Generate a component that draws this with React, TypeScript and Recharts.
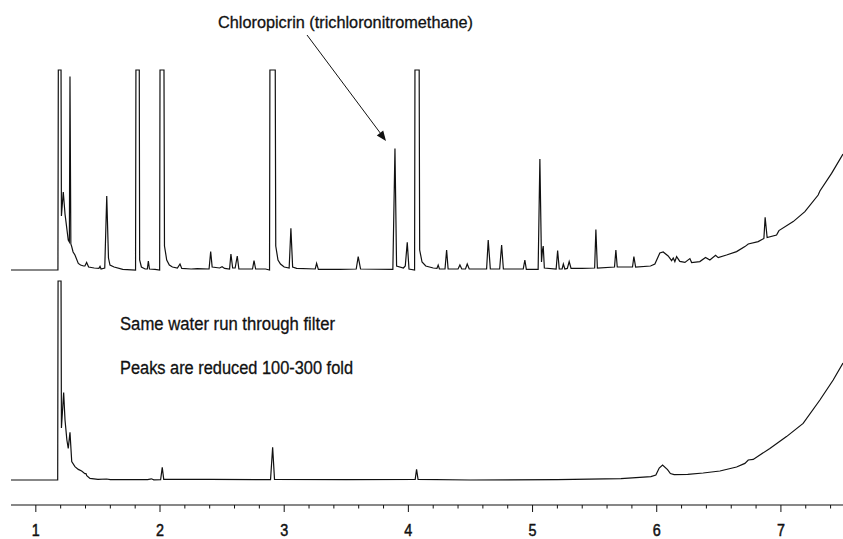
// Chromatogram: raw water vs. same water run through filter
import { LineChart, Line, XAxis, YAxis } from "recharts";

// retention time (min), signal (clipped at 100)
const rawTrace: [number, number][] = [
  [0.8, 0], [1.178, 0], [1.181, 100], [1.203, 100], [1.206, 27], [1.221, 39], [1.235, 28],
  [1.261, 15], [1.27, 14], [1.275, 96.7], [1.282, 13], [1.289, 11.7], [1.3, 9], [1.315, 7.5],
  [1.342, 3.3], [1.36, 2.5], [1.385, 2], [1.395, 2], [1.409, 3.8], [1.425, 1.5], [1.47, 1],
  [1.508, 0.8], [1.517, 1.8], [1.525, 0.5], [1.555, 1], [1.571, 37], [1.585, 6], [1.597, 2.5],
  [1.63, 1.5], [1.7, 0.3], [1.803, 0], [1.806, 100], [1.833, 100], [1.836, 5], [1.85, 1.5],
  [1.88, 0.5], [1.898, 0.5], [1.906, 4.5], [1.915, 0.5], [1.96, 0.3], [1.997, 0], [2.0, 100],
  [2.032, 100], [2.036, 12], [2.054, 5], [2.075, 2.5], [2.1, 1.5], [2.14, 1], [2.161, 3],
  [2.175, 0.8], [2.25, 0.5], [2.3, 0.7], [2.395, 0.5], [2.408, 9.2], [2.42, 1.5], [2.48, 1],
  [2.5, 1.6], [2.52, 0.8], [2.56, 0.5], [2.571, 8], [2.585, 1], [2.605, 1], [2.622, 7],
  [2.635, 0.5], [2.745, 0.5], [2.757, 4.7], [2.77, 0.5], [2.85, 0.5], [2.882, 0], [2.885, 100],
  [2.928, 100], [2.932, 12], [2.95, 5], [2.97, 3], [3.0, 1.5], [3.04, 1], [3.054, 20.8],
  [3.068, 1.5], [3.1, 0.8], [3.25, 0.5], [3.261, 3.3], [3.275, 0.3], [3.45, 0.3], [3.58, 0.5],
  [3.596, 6.7], [3.615, 0.5], [3.875, 0.3], [3.892, 60.8], [3.905, 2], [3.96, 1], [3.975, 2],
  [3.991, 13.8], [4.005, 0.5], [4.05, 0], [4.053, 100], [4.087, 100], [4.091, 10], [4.11, 4],
  [4.14, 2], [4.2, 1], [4.23, 0.8], [4.24, 2.5], [4.25, 0.5], [4.295, 0.5], [4.308, 10],
  [4.32, 0.5], [4.4, 0.5], [4.415, 2.5], [4.43, 0.5], [4.46, 0.5], [4.474, 3], [4.49, 0.5],
  [4.63, 0.5], [4.643, 15], [4.66, 0.5], [4.735, 0.5], [4.751, 12.5], [4.765, 0.5],
  [4.925, 0.5], [4.938, 5], [4.95, 0.3], [5.045, 0.3], [5.059, 55.5], [5.072, 4], [5.08, 10],
  [5.086, 12], [5.095, 1], [5.19, 0.5], [5.202, 9.7], [5.215, 0.5], [5.238, 0.5], [5.248, 3],
  [5.26, 0.5], [5.28, 0.8], [5.295, 4.2], [5.31, 0.8], [5.4, 0.8], [5.5, 1], [5.51, 20.3],
  [5.522, 1], [5.66, 1.5], [5.671, 10], [5.682, 1.5], [5.805, 1.5], [5.816, 6.7], [5.83, 1.5],
  [5.95, 2], [5.985, 3], [6.025, 8.5], [6.052, 9], [6.092, 7], [6.12, 4.7], [6.133, 6],
  [6.146, 4.2], [6.16, 6.7], [6.186, 4.3], [6.227, 3.8], [6.267, 5.7], [6.281, 3.7],
  [6.347, 4.2], [6.393, 6.3], [6.428, 5], [6.474, 7.3], [6.495, 6.2], [6.562, 7.5],
  [6.643, 9.2], [6.71, 11.7], [6.737, 13], [6.817, 14.2], [6.863, 15.8], [6.873, 26.3],
  [6.889, 16.2], [6.965, 17.5], [6.984, 19.7], [7.099, 24.2], [7.193, 29.2], [7.3, 37.5],
  [7.314, 39.5], [7.408, 48.3], [7.5, 58],
];

const filteredTrace: [number, number][] = [
  [0.8, 0], [1.176, 0], [1.179, 99.5], [1.203, 99.5], [1.206, 26], [1.224, 43.7], [1.235, 30],
  [1.25, 20], [1.261, 15.8], [1.275, 23.8], [1.289, 9.2], [1.315, 6.7], [1.342, 5.3],
  [1.369, 4.5], [1.395, 3.2], [1.404, 3.2], [1.41, 2.2], [1.436, 0.8], [1.5, 0.3], [1.57, 0.5],
  [1.6, 0.2], [1.9, 0.2], [1.93, 0.6], [1.95, 0.1], [2.005, 0.2], [2.018, 6.3], [2.03, 0.3],
  [2.4, 0.3], [2.89, 0.2], [2.907, 16.3], [2.922, 0.3], [3.5, 0.2], [4.055, 0.3], [4.066, 5.3],
  [4.078, 0.3], [4.5, 0], [5.2, 0.2], [5.712, 0.7], [5.953, 1.7], [5.993, 2.5], [6.02, 6],
  [6.047, 7.5], [6.087, 5.2], [6.11, 3.2], [6.14, 2.7], [6.25, 2.8], [6.374, 3.5],
  [6.509, 4.5], [6.643, 6.5], [6.71, 8.3], [6.737, 10], [6.777, 10.3], [6.911, 15.8],
  [7.045, 21.7], [7.179, 28.3], [7.314, 40], [7.421, 50], [7.5, 58.5],
];

const timeTicks = [
  1, 1.2, 1.4, 1.6, 1.8, 2, 2.2, 2.4, 2.6, 2.8, 3, 3.2, 3.4, 3.6, 3.8, 4, 4.2, 4.4, 4.6, 4.8,
  5, 5.2, 5.4, 5.6, 5.8, 6, 6.2, 6.4, 6.6, 6.8, 7, 7.2, 7.4,
];

// no condensed face installed, so squeeze Liberation Sans with textLength
const FONT = "'Liberation Sans Narrow', 'Arial Narrow', 'Liberation Sans', sans-serif";
const INK = "#111";

const rawData = rawTrace.map(([t, v]) => ({ t, v }));
const filteredData = filteredTrace.map(([t, v]) => ({ t, v }));

function TimeTick(props: any) {
  const { x, y, payload } = props;
  const v = payload.value as number;
  const major = Math.abs(v - Math.round(v)) < 1e-6;
  return (
    <g>
      <line x1={x} x2={x} y1={y} y2={y + (major ? 7 : 3.5)} stroke={INK} strokeWidth={1} />
      {major && (
        <text
          x={x - 4}
          y={y + 31}
          textLength={8}
          lengthAdjust="spacingAndGlyphs"
          fontFamily={FONT}
          fontSize={17}
          fill={INK}
          stroke={INK}
          strokeWidth={0.5}
        >
          {Math.round(v)}
        </text>
      )}
    </g>
  );
}

export default function App() {
  return (
    <div style={{ position: "absolute", left: 0, top: 0, width: 843, height: 539, background: "#fff" }}>
      <LineChart width={843} height={539} margin={{ top: 0, right: 0, bottom: 0, left: 11 }}>
        <XAxis
          dataKey="t"
          type="number"
          domain={[0.8, 7.5]}
          allowDataOverflow
          ticks={timeTicks}
          interval={0}
          height={34}
          tickSize={0}
          tickMargin={0}
          tickLine={false}
          axisLine={{ stroke: INK, strokeWidth: 1.2 }}
          tick={<TimeTick />}
        />
        <YAxis yAxisId="raw" hide type="number" domain={[-117.5, 135]} allowDataOverflow />
        <YAxis yAxisId="filtered" hide type="number" domain={[-12.5, 240]} allowDataOverflow />
        <Line
          yAxisId="raw"
          data={rawData}
          dataKey="v"
          type="linear"
          stroke={INK}
          strokeWidth={1.2}
          dot={false}
          isAnimationActive={false}
        />
        <Line
          yAxisId="filtered"
          data={filteredData}
          dataKey="v"
          type="linear"
          stroke={INK}
          strokeWidth={1.2}
          dot={false}
          isAnimationActive={false}
        />
      </LineChart>
      <svg width={843} height={539} style={{ position: "absolute", left: 0, top: 0, pointerEvents: "none" }}>
        <g fill={INK} stroke={INK} strokeWidth={0.3} fontFamily={FONT}>
          <text x={218} y={28} textLength={255} lengthAdjust="spacingAndGlyphs" fontSize={17}>
            Chloropicrin (trichloronitromethane)
          </text>
          <text x={120} y={330} textLength={215} lengthAdjust="spacingAndGlyphs" fontSize={18}>
            Same water run through filter
          </text>
          <text x={120} y={374} textLength={233} lengthAdjust="spacingAndGlyphs" fontSize={18}>
            Peaks are reduced 100-300 fold
          </text>
        </g>
        <line x1={307} y1={35} x2={381} y2={134} stroke={INK} strokeWidth={1} />
        <polygon points="386,141 376.8,135.4 383.2,130.6" fill={INK} />
      </svg>
    </div>
  );
}
